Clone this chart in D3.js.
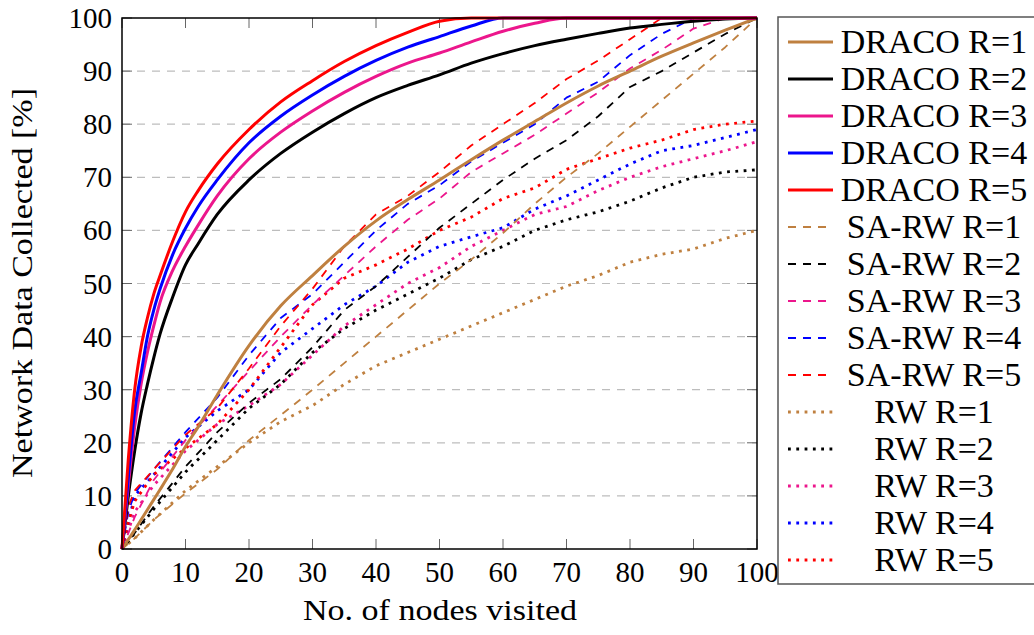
<!DOCTYPE html>
<html>
<head>
<meta charset="utf-8">
<script src="https://cdn.jsdelivr.net/npm/d3@7"></script>
<style>
  body { margin: 0; background: #fff; }
</style>
</head>
<body>
<div id="chart"></div>
<script>
// x positions (No. of nodes visited)
const xDraco = [0, 1, 2, 3, 4, 5, 6, 8, 10, 12, 15, 20, 25, 30, 35, 40, 45, 50, 55, 60, 65, 70, 75, 80, 85, 90, 95, 100];
const xWalk = [0, 1, 2, 5, 10, 15, 20, 25, 30, 35, 40, 45, 50, 55, 60, 65, 70, 75, 80, 85, 90, 95, 100];

// DRACO
const dracoR1 = [0, 1.8, 3.6, 5.5, 7.4, 9.3, 11.2, 15.1, 19.3, 23, 29, 38.3, 45.8, 51.5, 57, 61.8, 65.8, 69.5, 73.3, 77, 80.5, 84, 87.2, 90, 92.8, 95.3, 97.7, 100];
const dracoR2 = [0, 10, 18.5, 25.5, 31, 36, 40.5, 47.5, 53.5, 57.5, 63, 69.5, 74.5, 78.5, 82, 85, 87.3, 89.3, 91.5, 93.3, 94.8, 96, 97.1, 98.1, 98.8, 99.4, 99.8, 100];
const dracoR3 = [0, 12, 23, 31, 37, 42, 46.5, 52.5, 57, 61, 66.5, 73.5, 78.5, 82.5, 86, 89, 91.5, 93.4, 95.5, 97.5, 99, 100, 100, 100, 100, 100, 100, 100];
const dracoR4 = [0, 13.5, 26, 33, 40, 45, 49, 55.5, 60.4, 64.5, 69.5, 76.5, 81.5, 85.5, 89, 92, 94.5, 96.5, 98.5, 100, 100, 100, 100, 100, 100, 100, 100, 100];
const dracoR5 = [0, 17, 30, 38, 43.5, 48, 51.5, 58, 63.5, 67.5, 72.5, 79, 84.2, 88.2, 91.8, 94.8, 97.3, 99.4, 100, 100, 100, 100, 100, 100, 100, 100, 100, 100];

// SA-RW
const sarwR1 = [0, 1, 2, 5.5, 10.5, 15, 20.5, 25.2, 30, 35, 40, 45, 50, 54.5, 59.5, 65, 70, 74.5, 79.5, 84.5, 89.5, 94.5, 100];
const sarwR2 = [0, 1.5, 3, 8, 15.5, 22, 27.5, 32, 38, 45, 49.5, 55, 60.5, 65, 69.5, 73.5, 77, 81.5, 87, 90, 93.5, 97, 100];
const sarwR3 = [0, 3, 6, 13, 20.5, 27, 33.5, 40, 46, 51.5, 57, 62, 66, 71, 74.5, 78, 82, 86, 90.5, 94, 98, 100, 100];
const sarwR4 = [0, 7, 10.5, 15, 22, 28.5, 36.5, 43.5, 48, 54, 60, 65, 68.5, 73, 76.5, 80, 85, 88, 93, 97, 100, 100, 100];
const sarwR5 = [0, 8, 11, 15, 21.5, 26.5, 34, 42, 49, 57, 63, 66.5, 71, 76, 80, 84, 88.5, 92, 96, 100, 100, 100, 100];

// RW
const rwR1 = [0, 1, 2, 5.5, 11, 15.5, 20, 24, 27, 31, 34.5, 37, 39.5, 42, 44.5, 47, 49.5, 51.5, 54, 55.5, 56.5, 58.5, 60];
const rwR2 = [0, 1.5, 3, 7.5, 14.5, 20.5, 26.5, 31, 37, 41.5, 45, 48, 51, 54.5, 57, 60, 62, 63.5, 65.5, 68, 70, 71, 71.4];
const rwR3 = [0, 3.5, 7, 12, 18.5, 23.5, 27, 31, 36.5, 42, 46, 50, 53, 57, 60, 63, 64.5, 67.5, 70, 72, 73.5, 75, 76.7];
const rwR4 = [0, 5, 10, 14, 21, 26, 30, 37, 41.5, 46, 49.5, 54, 57, 58.8, 60.5, 64, 66.5, 69.5, 72.5, 75, 76, 77.5, 79];
const rwR5 = [0, 5, 9, 14, 19, 23.5, 30, 38, 46, 51, 53.5, 56.5, 60, 62.5, 66, 68, 71.5, 73.5, 75.5, 77, 79, 80, 80.6];

const xTicks = [0, 10, 20, 30, 40, 50, 60, 70, 80, 90, 100];
const yTicks = [0, 10, 20, 30, 40, 50, 60, 70, 80, 90, 100];

const brown = '#bf8040', pink = '#ec168c';
const series = [
  { name: 'DRACO R=1', xs: xDraco, ys: dracoR1, color: brown, kind: 'solid' },
  { name: 'DRACO R=2', xs: xDraco, ys: dracoR2, color: '#000', kind: 'solid' },
  { name: 'DRACO R=3', xs: xDraco, ys: dracoR3, color: pink, kind: 'solid' },
  { name: 'DRACO R=4', xs: xDraco, ys: dracoR4, color: '#0000ff', kind: 'solid' },
  { name: 'DRACO R=5', xs: xDraco, ys: dracoR5, color: '#ff0000', kind: 'solid' },
  { name: 'SA-RW R=1', xs: xWalk, ys: sarwR1, color: brown, kind: 'dashed' },
  { name: 'SA-RW R=2', xs: xWalk, ys: sarwR2, color: '#000', kind: 'dashed' },
  { name: 'SA-RW R=3', xs: xWalk, ys: sarwR3, color: pink, kind: 'dashed' },
  { name: 'SA-RW R=4', xs: xWalk, ys: sarwR4, color: '#0000ff', kind: 'dashed' },
  { name: 'SA-RW R=5', xs: xWalk, ys: sarwR5, color: '#ff0000', kind: 'dashed' },
  { name: 'RW R=1', xs: xWalk, ys: rwR1, color: brown, kind: 'dotted' },
  { name: 'RW R=2', xs: xWalk, ys: rwR2, color: '#000', kind: 'dotted' },
  { name: 'RW R=3', xs: xWalk, ys: rwR3, color: pink, kind: 'dotted' },
  { name: 'RW R=4', xs: xWalk, ys: rwR4, color: '#0000ff', kind: 'dotted' },
  { name: 'RW R=5', xs: xWalk, ys: rwR5, color: '#ff0000', kind: 'dotted' }
];

const styles = {
  solid: { width: 3, dash: null },
  dashed: { width: 1.8, dash: '8,7' },
  dotted: { width: 2.8, dash: '2.8,5.5' }
};

const W = 1034, H = 635;
const plotL = 122, plotR = 757, plotT = 18, plotB = 549;
const serif = "'Liberation Serif', 'Times New Roman', Times, 'DejaVu Serif', serif";

const svg = d3.select('#chart').append('svg')
  .attr('width', W).attr('height', H)
  .attr('font-family', serif)
  .style('font-family', serif);

const x = d3.scaleLinear().domain([0, 100]).range([plotL, plotR]);
const y = d3.scaleLinear().domain([0, 100]).range([plotB, plotT]);

// grid lines
svg.append('g')
  .selectAll('line')
  .data(yTicks.filter(d => d > 0 && d < 100))
  .enter().append('line')
  .attr('x1', plotL).attr('x2', plotR)
  .attr('y1', d => y(d)).attr('y2', d => y(d))
  .attr('stroke', '#bdbdbd').attr('stroke-width', 1.2)
  .attr('stroke-dasharray', '8,7');

// inside ticks on all four sides
const tickLen = 10;
const ticks = svg.append('g').attr('stroke', '#666').attr('stroke-width', 1);
xTicks.forEach(t => {
  ticks.append('line').attr('x1', x(t)).attr('x2', x(t)).attr('y1', plotB).attr('y2', plotB - tickLen);
  ticks.append('line').attr('x1', x(t)).attr('x2', x(t)).attr('y1', plotT).attr('y2', plotT + tickLen);
});
yTicks.forEach(t => {
  ticks.append('line').attr('y1', y(t)).attr('y2', y(t)).attr('x1', plotL).attr('x2', plotL + tickLen);
  ticks.append('line').attr('y1', y(t)).attr('y2', y(t)).attr('x1', plotR).attr('x2', plotR - tickLen);
});

// lines
const line = (s) => d3.line()
  .x((d, i) => x(s.xs[i]))
  .y(d => y(d))
  .curve(s.kind === 'solid' ? d3.curveMonotoneX : d3.curveLinear);

const drawOrder = series.slice(10).concat(series.slice(5, 10)).concat(series.slice(0, 5));
svg.append('g')
  .selectAll('path')
  .data(drawOrder)
  .enter().append('path')
  .attr('d', s => line(s)(s.ys))
  .attr('fill', 'none')
  .attr('stroke', s => s.color)
  .attr('stroke-width', s => styles[s.kind].width)
  .attr('stroke-dasharray', s => styles[s.kind].dash)
  .attr('stroke-linejoin', 'round');

// frame
svg.append('rect')
  .attr('x', plotL).attr('y', plotT)
  .attr('width', plotR - plotL).attr('height', plotB - plotT)
  .attr('fill', 'none').attr('stroke', '#000').attr('stroke-width', 1.5);

// tick labels
svg.append('g').selectAll('text')
  .data(xTicks).enter().append('text')
  .attr('x', d => x(d)).attr('y', 582)
  .attr('text-anchor', 'middle')
  .style('font-size', '29px')
  .text(d => d);

svg.append('g').selectAll('text')
  .data(yTicks).enter().append('text')
  .attr('x', 112).attr('y', d => y(d) + 10)
  .attr('text-anchor', 'end')
  .style('font-size', '29px')
  .text(d => d);

// axis titles
svg.append('text')
  .attr('x', 440).attr('y', 620)
  .attr('text-anchor', 'middle')
  .attr('textLength', 274).attr('lengthAdjust', 'spacingAndGlyphs')
  .style('font-size', '30px')
  .text('No. of nodes visited');

svg.append('text')
  .attr('transform', 'translate(32,283) rotate(-90)')
  .attr('text-anchor', 'middle')
  .attr('textLength', 390).attr('lengthAdjust', 'spacingAndGlyphs')
  .style('font-size', '30px')
  .text('Network Data Collected [%]');

// legend
const lg = svg.append('g');
lg.append('rect')
  .attr('x', 778).attr('y', 17)
  .attr('width', 300).attr('height', 567)
  .attr('fill', '#fff').attr('stroke', '#555').attr('stroke-width', 1.5);

const rowY = i => 42 + 37 * i;
series.forEach((s, i) => {
  const st = styles[s.kind];
  const x2 = s.kind === 'dashed' ? 828 : 833;
  lg.append('line')
    .attr('x1', 788).attr('x2', x2)
    .attr('y1', rowY(i)).attr('y2', rowY(i))
    .attr('stroke', s.color)
    .attr('stroke-width', st.width)
    .attr('stroke-dasharray', st.dash);
  lg.append('text')
    .attr('x', 934).attr('y', rowY(i) + 11)
    .attr('text-anchor', 'middle')
    .style('font-size', '34px')
    .text(s.name);
});
</script>
</body>
</html>
